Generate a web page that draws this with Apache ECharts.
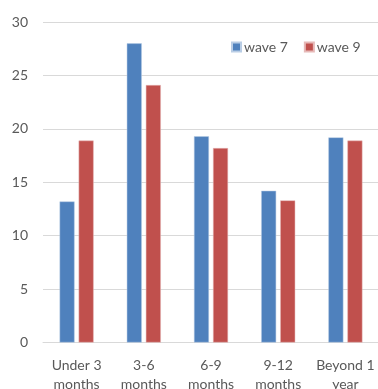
<!DOCTYPE html>
<html>
<head>
<meta charset="utf-8">
<script src="https://cdn.jsdelivr.net/npm/echarts@6/dist/echarts.min.js"></script>
<style>
  html, body { margin: 0; padding: 0; background: #fff; }
  #chart { width: 378px; height: 389px; }
</style>
</head>
<body>
<div id="chart"></div>
<script>
// Duration categories and the share for each survey wave
const categories = ['Under 3\nmonths', '3-6\nmonths', '6-9\nmonths', '9-12\nmonths', 'Beyond 1\nyear'];
const wave7 = [13.2, 28, 19.3, 14.2, 19.2];
const wave9 = [18.9, 24.1, 18.2, 13.3, 18.9];
const yTicks = { min: 0, max: 30, interval: 5 };

const font = 'Lato, "Open Sans", sans-serif';
const chart = echarts.init(document.getElementById('chart'), null, { renderer: 'canvas' });

chart.setOption({
  animation: false,
  textStyle: { fontFamily: font },
  grid: { left: 43, right: -1, top: 22, bottom: 46.5, containLabel: false, outerBoundsMode: 'none' },
  legend: {
    left: 226, top: 35,
    itemWidth: 9, itemHeight: 9, itemGap: 16,
    icon: 'rect',
    textStyle: { fontFamily: font, fontSize: 14, color: '#595959', padding: [0, 0, 0, -2] },
    data: ['wave 7', 'wave 9']
  },
  xAxis: {
    type: 'category',
    data: categories,
    axisLine: { show: true, lineStyle: { color: '#d9d9d9', width: 1 } },
    axisTick: { show: false },
    axisLabel: { color: '#595959', fontSize: 14, fontFamily: font, margin: 13, lineHeight: 19, interval: 0 }
  },
  yAxis: {
    type: 'value',
    min: yTicks.min, max: yTicks.max, interval: yTicks.interval,
    axisLine: { show: false },
    axisTick: { show: false },
    splitLine: { lineStyle: { color: '#d9d9d9', width: 1 } },
    axisLabel: { color: '#595959', fontSize: 14, fontFamily: font, margin: 15 }
  },
  series: [
    {
      name: 'wave 7', type: 'bar', data: wave7,
      barWidth: 15, barGap: '27%',
      itemStyle: { color: '#4f81bd', borderColor: '#b9cde5', borderWidth: 0.5 }
    },
    {
      name: 'wave 9', type: 'bar', data: wave9,
      barWidth: 15,
      itemStyle: { color: '#c0504d', borderColor: '#e6b9b8', borderWidth: 0.5 }
    }
  ]
});
</script>
</body>
</html>
